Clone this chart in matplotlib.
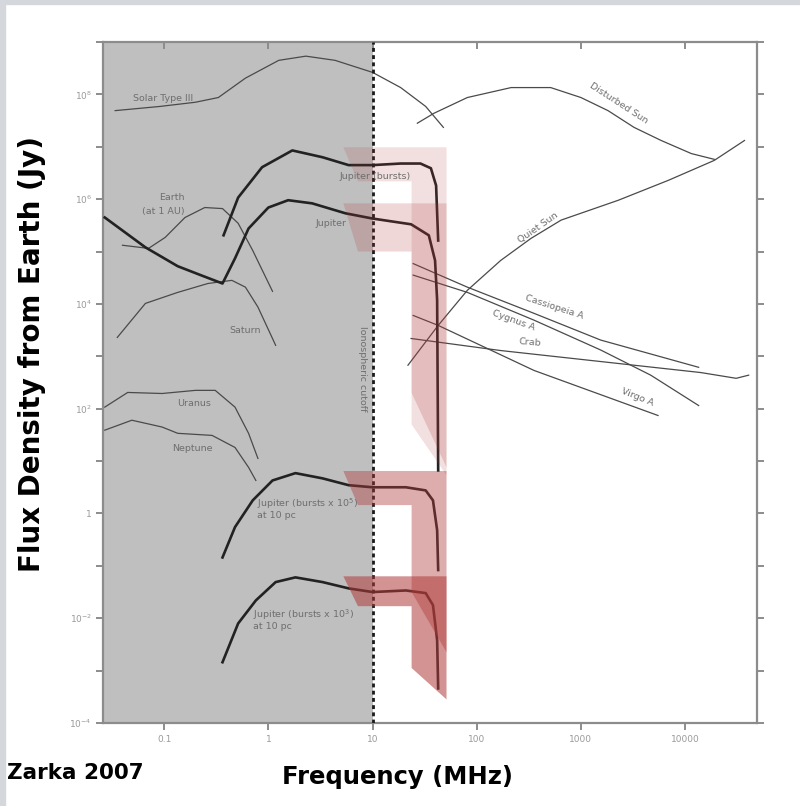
import matplotlib

matplotlib.use("Agg")

import matplotlib.pyplot as plt  # noqa: E402
import numpy as np  # noqa: E402
from matplotlib.patches import Polygon, Rectangle  # noqa: E402

# --- data: log10(frequency / MHz) and log10(flux density / Jy) ---------------
solar_t3_f = [-1.47, -1.04, -0.70, -0.48, -0.22, 0.10, 0.36, 0.64, 1.00, 1.27, 1.51, 1.68]
solar_t3_s = [7.69, 7.77, 7.85, 7.94, 8.31, 8.65, 8.73, 8.65, 8.42, 8.13, 7.77, 7.37]

dist_sun_f = [1.43, 1.59, 1.91, 2.33, 2.71, 3.00, 3.26, 3.51, 3.77, 4.06, 4.28]
dist_sun_s = [7.45, 7.64, 7.94, 8.13, 8.13, 7.94, 7.69, 7.37, 7.12, 6.87, 6.76]

quiet_sun_f = [1.34, 1.63, 1.91, 2.23, 2.52, 2.81, 3.36, 3.84, 4.28, 4.57]
quiet_sun_s = [2.83, 3.59, 4.26, 4.83, 5.25, 5.60, 5.98, 6.36, 6.74, 7.12]

jup_bursts_f = [-0.43, -0.29, -0.06, 0.23, 0.52, 0.77, 1.00, 1.27, 1.46, 1.56, 1.61, 1.63]
jup_bursts_s = [5.31, 6.03, 6.61, 6.93, 6.80, 6.65, 6.65, 6.68, 6.68, 6.59, 6.26, 5.21]

jupiter_f = [-1.57, -1.18, -0.87, -0.65, -0.44, -0.32, -0.19, 0.00, 0.19, 0.42,
             0.74, 1.00, 1.37, 1.54, 1.60, 1.62, 1.63]
jupiter_s = [5.65, 5.08, 4.72, 4.55, 4.39, 4.87, 5.44, 5.84, 5.98, 5.92,
             5.73, 5.63, 5.52, 5.31, 4.83, 4.07, 0.82]

jup_10pc_a_f = [-0.44, -0.32, -0.15, 0.04, 0.26, 0.52, 0.77, 1.00, 1.32, 1.51, 1.58, 1.62, 1.63]
jup_10pc_a_s = [-0.84, -0.26, 0.25, 0.63, 0.77, 0.67, 0.54, 0.50, 0.50, 0.44, 0.25, -0.32, -1.08]

jup_10pc_b_f = [-0.44, -0.29, -0.12, 0.07, 0.26, 0.52, 0.77, 1.00, 1.32, 1.51, 1.58, 1.62, 1.63]
jup_10pc_b_s = [-2.84, -2.10, -1.66, -1.31, -1.22, -1.31, -1.43, -1.50, -1.47, -1.52, -1.75, -2.42, -3.34]

earth_f = [-1.40, -1.15, -0.99, -0.80, -0.61, -0.44, -0.29, -0.15, 0.04]
earth_s = [5.12, 5.06, 5.27, 5.65, 5.84, 5.82, 5.54, 5.02, 4.24]

saturn_f = [-1.45, -1.18, -0.87, -0.58, -0.35, -0.22, -0.10, 0.07]
saturn_s = [3.36, 4.01, 4.22, 4.39, 4.45, 4.32, 3.94, 3.21]

uranus_f = [-1.57, -1.35, -1.02, -0.70, -0.51, -0.32, -0.19, -0.10]
uranus_s = [2.03, 2.31, 2.29, 2.35, 2.35, 2.03, 1.53, 1.05]

neptune_f = [-1.57, -1.31, -1.02, -0.87, -0.54, -0.32, -0.19, -0.12]
neptune_s = [1.59, 1.78, 1.65, 1.53, 1.49, 1.26, 0.88, 0.63]

cas_a_f = [1.39, 1.91, 2.55, 3.19, 4.13]
cas_a_s = [4.77, 4.32, 3.82, 3.31, 2.79]

cyg_a_f = [1.39, 1.91, 2.55, 3.19, 3.67, 4.13]
cyg_a_s = [4.55, 4.22, 3.69, 3.12, 2.64, 2.06]

crab_f = [1.37, 2.23, 3.51, 4.15, 4.49, 4.61]
crab_s = [3.34, 3.11, 2.83, 2.69, 2.58, 2.64]

virgo_a_f = [1.39, 1.63, 2.55, 3.74]
virgo_a_s = [3.78, 3.59, 2.73, 1.87]

# highlighted Jupiter-like emission windows: band top/bottom, bar end (left, right)
hl_top = [6.99, 5.92, 0.81, -1.20]
hl_band_bottom = [6.34, 5.00, 0.16, -1.77]
hl_bar_end_left = [1.70, 2.30, -1.50, -2.95]
hl_bar_end_right = [0.73, 0.88, -2.65, -3.55]
hl_alpha = [0.16, 0.20, 0.42, 0.55]
hl_x = [0.72, 0.86, 1.375, 1.71]  # left, slanted left, bar left, right edge

x_ticks = [0.1, 1, 10, 100, 1000, 10000]
x_tick_labels = ["0.1", "1", "10", "100", "1000", "10000"]
y_tick_exp = list(range(-4, 10))

thin_curves = [
    (solar_t3_f, solar_t3_s), (dist_sun_f, dist_sun_s), (quiet_sun_f, quiet_sun_s),
    (earth_f, earth_s), (saturn_f, saturn_s), (uranus_f, uranus_s),
    (neptune_f, neptune_s), (cas_a_f, cas_a_s), (cyg_a_f, cyg_a_s),
    (crab_f, crab_s), (virgo_a_f, virgo_a_s),
]
thick_curves = [
    (jup_bursts_f, jup_bursts_s), (jupiter_f, jupiter_s),
    (jup_10pc_a_f, jup_10pc_a_s), (jup_10pc_b_f, jup_10pc_b_s),
]

# label text, log f, log S, rotation, alignment
labels = [
    ("Solar Type III", -1.01, 7.92, 0, "center"),
    ("Earth", -0.93, 6.03, 0, "center"),
    ("(at 1 AU)", -1.01, 5.77, 0, "center"),
    ("Jupiter (bursts)", 1.03, 6.44, 0, "center"),
    ("Jupiter", 0.60, 5.54, 0, "center"),
    ("Saturn", -0.22, 3.50, 0, "center"),
    ("Uranus", -0.71, 2.10, 0, "center"),
    ("Neptune", -0.73, 1.24, 0, "center"),
    ("Jupiter (bursts x 10$^5$)\nat 10 pc", -0.11, 0.10, 0, "left"),
    ("Jupiter (bursts x 10$^3$)\nat 10 pc", -0.15, -2.02, 0, "left"),
    ("Ionospheric cutoff", 0.90, 2.77, -90, "center"),
    ("Disturbed Sun", 3.36, 7.83, -33, "center"),
    ("Quiet Sun", 2.59, 5.46, 35, "center"),
    ("Cassiopeia A", 2.74, 3.94, -18, "center"),
    ("Cygnus A", 2.35, 3.69, -20, "center"),
    ("Crab", 2.51, 3.27, -5, "center"),
    ("Virgo A", 3.54, 2.22, -22, "center"),
]

fig = plt.figure(figsize=(8.0, 8.06), dpi=100)
fig.patch.set_facecolor("white")
fig.patches.append(Rectangle((0, 0), 5 / 800, 1, transform=fig.transFigure,
                             color="#d4d8dd", zorder=-1))
fig.patches.append(Rectangle((0, 1 - 4 / 806), 1, 4 / 806, transform=fig.transFigure,
                             color="#d4d8dd", zorder=-1))

ax = fig.add_axes([103 / 800, 1 - 723 / 806, 654 / 800, 681 / 806])
ax.set_xscale("log")
ax.set_yscale("log")
ax.set_xlim(10 ** -1.587, 10 ** 4.69)
ax.set_ylim(1e-4, 10 ** 9.0)

ax.axvspan(10 ** -1.587, 10, color="#bfbfbf", zorder=0, lw=0)

for f, s in thin_curves:
    ax.plot(10 ** np.array(f), 10 ** np.array(s), color="#4a4a4a", lw=0.9, zorder=3)
for f, s in thick_curves:
    ax.plot(10 ** np.array(f), 10 ** np.array(s), color="#222222", lw=1.9, zorder=3)

ax.axvline(10, color="#1a1a1a", lw=2.0, ls=(0, (1.4, 1.2)), zorder=4)

x0, xs, xv, xr = (10 ** v for v in hl_x)
for top, bb, el, er, a in zip(hl_top, hl_band_bottom, hl_bar_end_left,
                             hl_bar_end_right, hl_alpha):
    pts = [(x0, 10 ** top), (xr, 10 ** top), (xr, 10 ** er), (xv, 10 ** el),
           (xv, 10 ** bb), (xs, 10 ** bb)]
    ax.add_patch(Polygon(pts, closed=True, facecolor="#b03a3a", alpha=a,
                         edgecolor="none", zorder=5))

for text, lf, ls_, rot, ha in labels:
    ax.text(10 ** lf, 10 ** ls_, text, fontsize=6.8, color="#6e6e6e", rotation=rot,
            ha=ha, va="center", rotation_mode="anchor", zorder=6, linespacing=1.1)

for side in ax.spines.values():
    side.set_color("#8c8c8c")
    side.set_linewidth(1.6)

ax.set_xticks(x_ticks)
ax.set_xticklabels(x_tick_labels)
ax.xaxis.set_minor_locator(matplotlib.ticker.NullLocator())
ax.yaxis.set_minor_locator(matplotlib.ticker.NullLocator())
ax.set_yticks([10.0 ** e for e in y_tick_exp])
ylabels = []
for e in y_tick_exp:
    if e % 2 or e > 8:
        ylabels.append("")
    elif e == 0:
        ylabels.append("1")
    else:
        ylabels.append(f"10$^{{{e}}}$")
ax.set_yticklabels(ylabels)
ax.tick_params(axis="both", colors="#8c8c8c", labelcolor="#9a9a9a", labelsize=6.5,
               length=5, width=1.4)
ax.tick_params(axis="x", top=True, pad=4)
ax.tick_params(axis="x", which="major", direction="out")
ax.tick_params(axis="y", right=True, direction="out", pad=3)
for t in ax.xaxis.get_major_ticks():
    t.tick2line.set_marker(matplotlib.lines.TICKDOWN)

fig.text(7 / 800, 1 - 773 / 806, "Zarka 2007", fontsize=15.5, fontweight="bold",
         ha="left", va="center")
fig.text(398 / 800, 1 - 777 / 806, "Frequency (MHz)", fontsize=17.5, fontweight="bold",
         ha="center", va="center")
fig.text(32 / 800, 1 - 354 / 806, "Flux Density from Earth (Jy)", fontsize=20,
         fontweight="bold", ha="center", va="center", rotation=90)

fig.savefig("out.png", dpi=100)
